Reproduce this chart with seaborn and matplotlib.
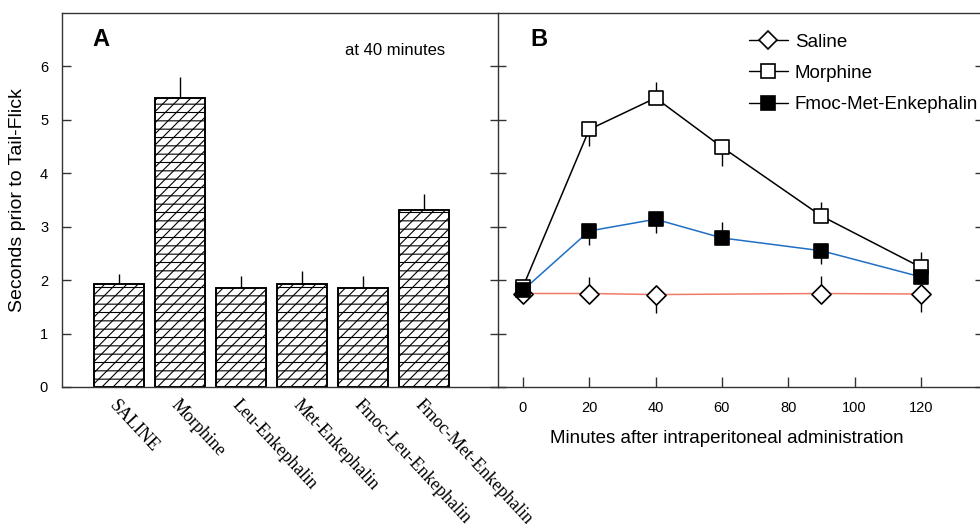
import matplotlib
matplotlib.use('Agg')
import matplotlib.pyplot as plt
from matplotlib.lines import Line2D
import seaborn as sns
import pandas as pd
import numpy as np

# Panel A: tail-flick latency at 40 minutes
drugs = ['SALINE', 'Morphine', 'Leu-Enkephalin', 'Met-Enkephalin',
         'Fmoc-Leu-Enkephalin', 'Fmoc-Met-Enkephalin']
latency_40 = [1.92, 5.40, 1.85, 1.92, 1.85, 3.32]
latency_40_err = [0.20, 0.40, 0.22, 0.25, 0.22, 0.30]

# Panel B: time course
saline_t = [0, 20, 40, 90, 120]
saline_y = [1.75, 1.75, 1.73, 1.75, 1.74]
saline_lo = [0.0, 0.0, 0.34, 0.0, 0.33]
saline_hi = [0.0, 0.30, 0.0, 0.32, 0.0]

morph_t = [0, 20, 40, 60, 90, 120]
morph_y = [1.87, 4.82, 5.41, 4.49, 3.20, 2.24]
morph_lo = [0.0, 0.30, 0.0, 0.35, 0.0, 0.0]
morph_hi = [0.0, 0.0, 0.30, 0.0, 0.26, 0.28]

fmoc_t = [0, 20, 40, 60, 90, 120]
fmoc_y = [1.81, 2.92, 3.14, 2.79, 2.55, 2.06]
fmoc_lo = [0.0, 0.27, 0.26, 0.0, 0.25, 0.0]
fmoc_hi = [0.0, 0.0, 0.0, 0.30, 0.0, 0.0]

sns.set_style('white')
plt.rcParams['font.family'] = ['Liberation Sans', 'DejaVu Sans']
plt.rcParams['hatch.linewidth'] = 0.8
plt.rcParams['hatch.color'] = 'black'
for key in ['text.color', 'axes.labelcolor', 'xtick.color', 'ytick.color',
            'xtick.labelcolor', 'ytick.labelcolor']:
    plt.rcParams[key] = 'black'

spine_col = '#333333'
fig = plt.figure(figsize=(9.8, 5.24), dpi=100)
axA = fig.add_axes([62/980, 137/524, 436/980, 374/524])
axB = fig.add_axes([498/980, 137/524, 485/980, 374/524])

#%% Panel A bars: horizontal hatch from seaborn, diagonal hatch laid over it
dfA = pd.DataFrame({'drug': drugs, 'latency': latency_40})
sns.barplot(data=dfA, x='drug', y='latency', ax=axA, color='white',
            edgecolor='black', linewidth=1.2, width=0.82, errorbar=None,
            hatch='--', zorder=2)
axA.bar(np.arange(len(drugs)), latency_40, width=0.82, fill=False,
        hatch='///', edgecolor='black', linewidth=1.2, zorder=2.5)
axA.errorbar(np.arange(len(drugs)), latency_40,
             yerr=[np.zeros(len(drugs)), latency_40_err],
             fmt='none', ecolor='black', elinewidth=1.0, capsize=0, zorder=1)
axA.set_xlim(-0.93, 6.22)
axA.set_ylim(0, 7)
axA.set_yticks(range(0, 7))
axA.set_xticks(range(len(drugs)))
axA.set_xticklabels(drugs, rotation=-47, ha='left', va='top',
                    rotation_mode='anchor', family=['Liberation Serif'], fontsize=13)
axA.tick_params(axis='x', length=0, pad=7)
axA.tick_params(axis='y', direction='in', length=6.5, width=1, pad=10,
                labelsize=10.5, left=True, color=spine_col)
axA.set_xlabel('')
axA.set_ylabel('Seconds prior to Tail-Flick', fontsize=14)
axA.yaxis.set_label_coords(-0.083, 0.5)
axA.text(0.09, 0.93, 'A', transform=axA.transAxes, fontsize=17,
         fontweight='bold', ha='center', va='center')
axA.text(0.764, 0.90, 'at 40 minutes', transform=axA.transAxes,
         fontsize=12, ha='center', va='center')
axA.spines['right'].set_visible(False)

#%% Panel B time course
series = [
    (saline_t, saline_y, saline_lo, saline_hi, 'D', 'white', '#F07A68', 'Saline'),
    (morph_t, morph_y, morph_lo, morph_hi, 's', 'white', 'black', 'Morphine'),
    (fmoc_t, fmoc_y, fmoc_lo, fmoc_hi, 's', 'black', '#1F6FC4', 'Fmoc-Met-Enkephalin'),
]
handles = []
for t, y, lo, hi, mk, face, lc, name in series:
    axB.errorbar(t, y, yerr=[lo, hi], fmt='none', ecolor='black',
                 elinewidth=1.0, capsize=0, zorder=2)
    sns.lineplot(x=t, y=y, ax=axB, color=lc, linewidth=1.1, zorder=3)
    sns.scatterplot(x=t, y=y, ax=axB, marker=mk, s=100 if mk == 's' else 95,
                    color=face, edgecolor='black', linewidth=1.2, zorder=4)
    handles.append(Line2D([], [], color='black', linewidth=1.0, marker=mk,
                          markersize=10 if mk == 's' else 9.5,
                          markerfacecolor=face, markeredgecolor='black',
                          markeredgewidth=1.2, label=name))

axB.set_xlim(-7.5, 138.7)
axB.set_ylim(0, 7)
axB.set_xticks(range(0, 121, 20))
axB.set_yticks(range(0, 7))
axB.set_yticklabels([])
axB.tick_params(axis='x', direction='in', length=7, width=1, pad=10,
                labelsize=10.5, bottom=True, color=spine_col)
axB.tick_params(axis='y', direction='inout', length=12, width=1,
                left=True, right=True, color=spine_col)
axB.set_xlabel('Minutes after intraperitoneal administration', fontsize=13.5)
axB.xaxis.set_label_coords(0.472, -0.115)
axB.set_ylabel('')
axB.text(0.085, 0.93, 'B', transform=axB.transAxes, fontsize=17,
         fontweight='bold', ha='center', va='center')
axB.legend(handles=handles, loc='upper left', bbox_to_anchor=(0.49, 0.98),
           frameon=False, fontsize=13.5, handlelength=2.1, handletextpad=0.35,
           labelspacing=0.75, borderaxespad=0.3)

for ax in (axA, axB):
    for sp in ax.spines.values():
        sp.set_color(spine_col)
        sp.set_linewidth(1.0)

fig.savefig('out.png', dpi=100)
